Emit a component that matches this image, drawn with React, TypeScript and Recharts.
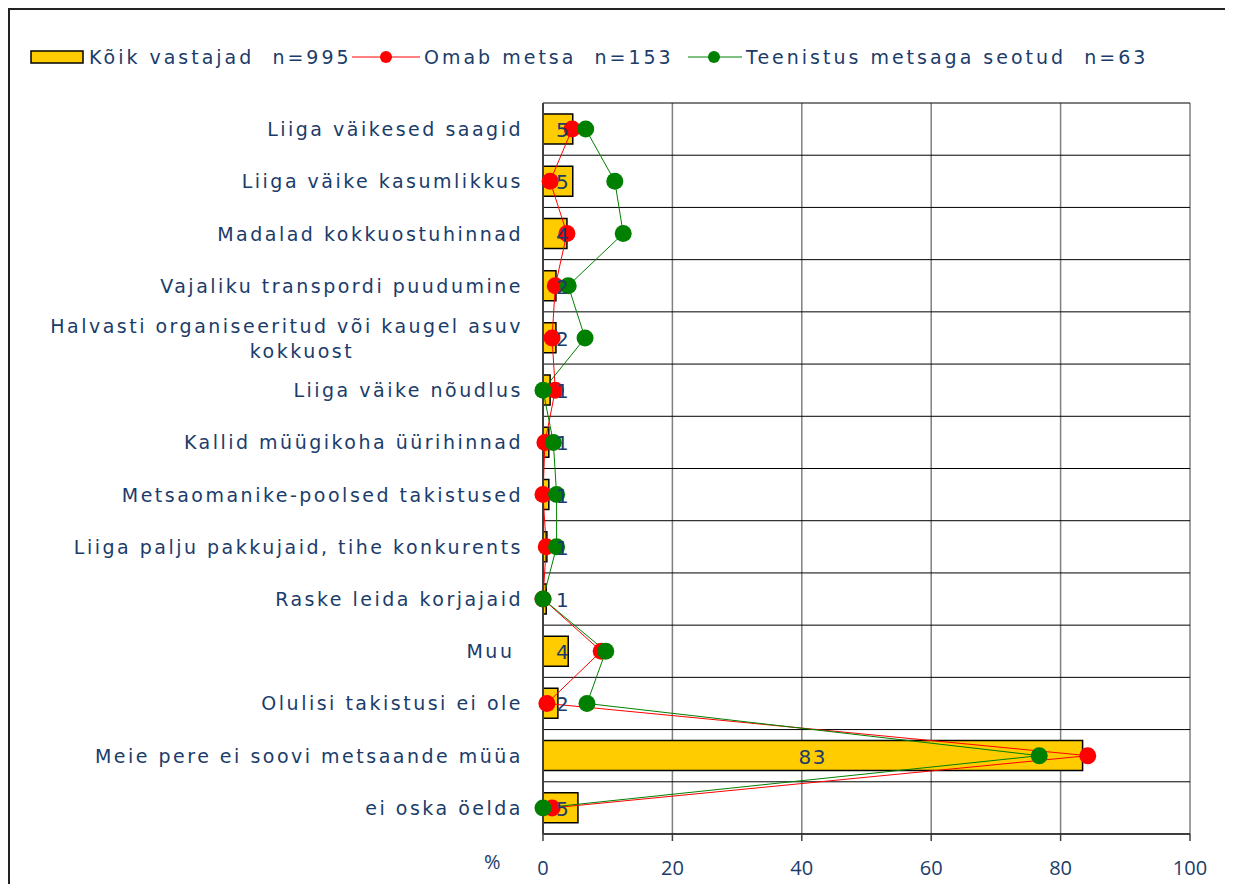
import React from 'react';
import {
  ComposedChart,
  Bar,
  Line,
  XAxis,
  YAxis,
  CartesianGrid,
  LabelList,
} from 'recharts';

const categories = [
  'Liiga väikesed saagid',
  'Liiga väike kasumlikkus',
  'Madalad kokkuostuhinnad',
  'Vajaliku transpordi puudumine',
  'Halvasti organiseeritud või kaugel asuv\nkokkuost',
  'Liiga väike nõudlus',
  'Kallid müügikoha üürihinnad',
  'Metsaomanike-poolsed takistused',
  'Liiga palju pakkujaid, tihe konkurents',
  'Raske leida korjajaid',
  'Muu ',
  'Olulisi takistusi ei ole',
  'Meie pere ei soovi metsaande müüa',
  'ei oska öelda',
];

const allRespondents = [4.6, 4.6, 3.7, 2.0, 2.0, 1.1, 0.9, 0.9, 0.6, 0.5, 3.9, 2.3, 83.4, 5.4];
const forestOwners = [4.5, 1.1, 3.7, 1.9, 1.4, 1.9, 0.3, 0.0, 0.5, 0.0, 9.0, 0.6, 84.2, 1.4];
const forestJob = [6.6, 11.1, 12.4, 3.9, 6.5, 0.0, 1.6, 2.1, 2.1, 0.0, 9.7, 6.8, 76.7, 0.0];

const xTicks = [0, 20, 40, 60, 80, 100];

const seriesNames = [
  'Kõik vastajad  n=995',
  'Omab metsa  n=153',
  'Teenistus metsaga seotud  n=63',
];

const data = categories.map((name, i) => ({
  name,
  all: allRespondents[i],
  owners: forestOwners[i],
  job: forestJob[i],
  labelPos: Math.max(allRespondents[i] / 2, 3.1),
  label: String(Math.round(allRespondents[i])),
}));

const TEXT = '#1B3C6A';
const FONT = '"DejaVu Sans", Verdana, sans-serif';
const FS = 19;
const LS = 2.5;

const YTick = (props: any) => {
  const { x, y, payload } = props;
  const lines = String(payload.value).split('\n');
  if (lines.length === 1) {
    return (
      <text
        x={x - 20}
        y={y}
        textAnchor="end"
        dominantBaseline="central"
        fill={TEXT}
        fontSize={FS}
        fontFamily={FONT}
        letterSpacing={LS}
        style={{ whiteSpace: 'pre' }}
      >
        {lines[0]}
      </text>
    );
  }
  return (
    <g>
      <text
        x={x - 20}
        y={y - 12}
        textAnchor="end"
        dominantBaseline="central"
        fill={TEXT}
        fontSize={FS}
        fontFamily={FONT}
        letterSpacing={LS}
      >
        {lines[0]}
      </text>
      <text
        x={x - 241}
        y={y + 13}
        textAnchor="middle"
        dominantBaseline="central"
        fill={TEXT}
        fontSize={FS}
        fontFamily={FONT}
        letterSpacing={LS}
      >
        {lines[1]}
      </text>
    </g>
  );
};

const XTick = (props: any) => {
  const { x, y, payload } = props;
  return (
    <text
      x={x}
      y={y + 24}
      textAnchor="middle"
      dominantBaseline="central"
      fill={TEXT}
      fontSize={20}
      fontFamily='"Open Sans", sans-serif'
    >
      {payload.value}
    </text>
  );
};

const BarLabel = (props: any) => {
  const { x, y, value } = props;
  return (
    <text
      x={x}
      y={y + 1}
      textAnchor="middle"
      dominantBaseline="central"
      fill={TEXT}
      fontSize={20}
      fontFamily={FONT}
      letterSpacing={1.5}
    >
      {value}
    </text>
  );
};

const legendText: React.CSSProperties = {
  position: 'absolute',
  top: 36,
  fontFamily: FONT,
  fontSize: FS,
  letterSpacing: 3,
  color: TEXT,
  whiteSpace: 'pre',
  lineHeight: '22px',
};

export default function App() {
  return (
    <div
      style={{
        position: 'relative',
        width: 1216,
        height: 874,
        borderTop: '2px solid #222',
        borderLeft: '2px solid #222',
        borderRight: '2px solid #222',
        background: '#fff',
      }}
    >
      {/* Legend */}
      <svg
        width={1216}
        height={40}
        style={{ position: 'absolute', left: 0, top: 35 }}
      >
        <rect x={21} y={6} width={52} height={12} fill="#FFCC00" stroke="#000" strokeWidth={1.5} />
        <line x1={342} y1={12} x2={410} y2={12} stroke="#FF0000" strokeWidth={1} />
        <circle cx={376} cy={12} r={6} fill="#FF0000" />
        <line x1={678} y1={12} x2={732} y2={12} stroke="#008000" strokeWidth={1} />
        <circle cx={704} cy={12} r={6} fill="#008000" />
      </svg>
      <div style={{ ...legendText, left: 79 }}>{seriesNames[0]}</div>
      <div style={{ ...legendText, left: 414 }}>{seriesNames[1]}</div>
      <div style={{ ...legendText, left: 736 }}>{seriesNames[2]}</div>
      <div
        style={{
          position: 'absolute',
          left: 474,
          top: 838,
          fontFamily: '"Open Sans", sans-serif',
          fontSize: 20,
          color: TEXT,
        }}
      >
        %
      </div>
      <ComposedChart
        width={1216}
        height={874}
        layout="vertical"
        data={data}
        margin={{ top: 93, right: 36, bottom: 10, left: 0 }}
        barCategoryGap={11}
      >
        <CartesianGrid
          horizontal={false}
          vertical={true}
          stroke="#808080"
          strokeWidth={1.5}
        />
        <CartesianGrid
          vertical={false}
          horizontal={true}
          stroke="#000"
          strokeWidth={1}
          horizontalCoordinatesGenerator={(p: any) => {
            const top = p.offset.top;
            const h = p.offset.height;
            const n = categories.length;
            return Array.from({ length: n + 1 }, (_, i) => top + (i * h) / n);
          }}
        />
        <XAxis
          type="number"
          domain={[0, 100]}
          ticks={xTicks}
          tick={<XTick />}
          tickSize={7}
          tickLine={{ stroke: '#404040', strokeWidth: 1.5 }}
          axisLine={{ stroke: '#000', strokeWidth: 1 }}
          height={40}
          interval={0}
        />
        <YAxis
          type="category"
          dataKey="name"
          width={533}
          tick={<YTick />}
          tickLine={false}
          tickSize={0}
          tickMargin={0}
          axisLine={{ stroke: '#404040', strokeWidth: 2 }}
          interval={0}
        />
        <Bar
          dataKey="all"
          name={seriesNames[0]}
          fill="#FFCC00"
          stroke="#000"
          strokeWidth={1.5}
          barSize={30}
          isAnimationActive={false}
        />
        <Line
          dataKey="owners"
          name={seriesNames[1]}
          stroke="#FF0000"
          strokeWidth={1}
          dot={{ r: 8.5, fill: '#FF0000', stroke: 'none' }}
          activeDot={false}
          isAnimationActive={false}
        />
        <Line
          dataKey="job"
          name={seriesNames[2]}
          stroke="#008000"
          strokeWidth={1}
          dot={{ r: 8.5, fill: '#008000', stroke: 'none' }}
          activeDot={false}
          isAnimationActive={false}
        />
        <Line
          dataKey="labelPos"
          stroke="none"
          dot={false}
          activeDot={false}
          legendType="none"
          isAnimationActive={false}
        >
          <LabelList dataKey="label" content={<BarLabel />} />
        </Line>
      </ComposedChart>
    </div>
  );
}
